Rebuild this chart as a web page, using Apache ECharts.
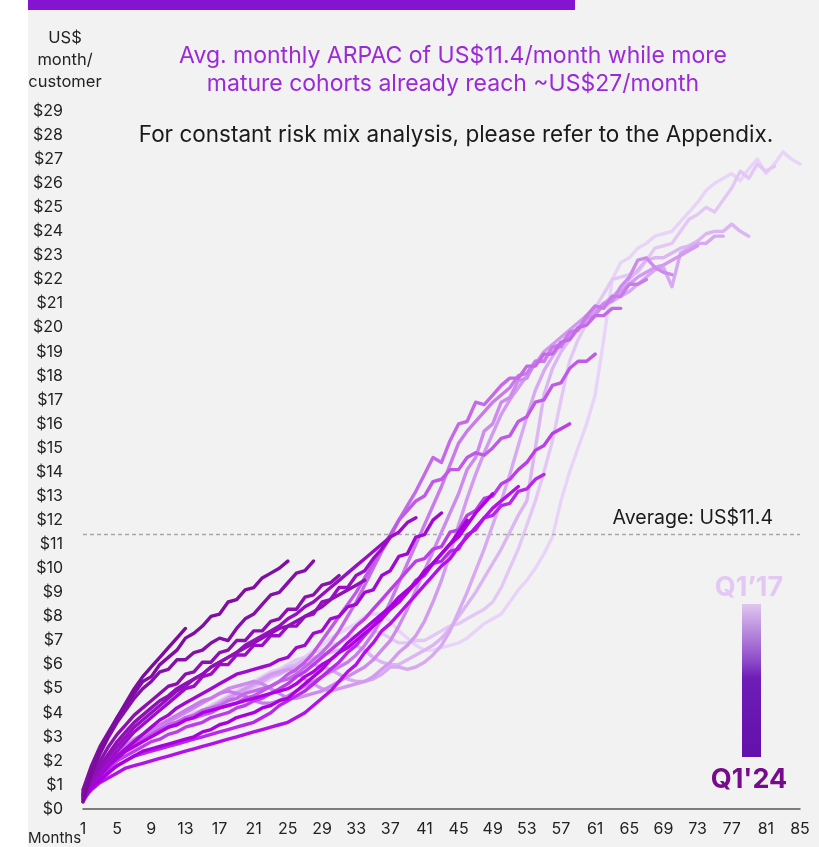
<!DOCTYPE html>
<html>
<head>
<meta charset="utf-8">
<script src="https://cdn.jsdelivr.net/npm/echarts/dist/echarts.min.js"></script>
<style>
  html, body { margin: 0; padding: 0; background: #fff; }
  #chart { width: 819px; height: 847px; }
</style>
</head>
<body>
<div id="chart"></div>
<script>
// months on the x axis (1..85), every 4th one is labelled
const months = [];
for (let m = 1; m <= 85; m++) months.push(String(m));

const avgArpac = 11.4;

// ARPAC per cohort (US$ / month / customer), oldest cohort first (Q1'17 -> newest)
const q85 = [0.8,1.3,1.7,2.1,2.4,2.7,2.9,3.1,3.2,3.3, 3.4,3.5,3.6,3.7,3.9,4.0,4.2,4.4,4.6,4.8,
  5.0,5.2,5.4,5.6,5.8,6.1,6.3,6.6,6.8,7.1, 7.3,7.5,7.7,8.0,8.1,8.1,7.8,7.4,7.1,6.8,
  6.6,6.6,6.7,6.8,6.9,7.1,7.4,7.7,7.9,8.1, 8.6,9.1,9.5,10.0,10.6,11.3,12.8,14.0,15.0,16.0,
  17.2,19.5,22.0,22.7,22.9,23.3,23.5,23.8,23.9,24.0, 24.4,24.8,25.2,25.7,26.0,26.2,26.4,26.1,26.6,27.0,
  26.4,26.8,27.3,27.0,26.8];
const q82 = [0.8,1.2,1.6,2.0,2.3,2.6,2.8,3.0,3.2,3.3, 3.5,3.6,3.8,4.0,4.1,4.3,4.5,4.7,4.9,5.1,
  5.3,5.5,5.7,5.8,6.0,6.2,6.3,6.5,6.6,6.8, 6.9,7.1,7.2,7.3,7.4,7.3,7.1,6.9,6.9,7.0,
  7.0,7.2,7.4,7.6,7.7,7.9,8.1,8.3,8.6,9.2, 10.0,10.8,11.8,12.8,14.0,15.3,17.0,18.6,19.5,20.2,
  20.8,21.4,22.0,22.1,22.2,22.3,22.8,23.3,23.4,23.5, 24.0,24.5,24.7,25.0,24.8,25.3,25.8,26.5,26.2,26.8,
  26.5,26.7];
const q79 = [0.7,1.2,1.6,2.0,2.3,2.5,2.7,2.9,3.1,3.3, 3.4,3.5,3.7,3.8,4.0,4.2,4.4,4.6,4.8,4.9,
  5.1,5.3,5.5,5.7,5.9,6.0,6.2,6.3,6.4,6.5, 6.6,6.7,6.8,6.6,6.3,6.1,6.0,6.0,6.2,6.4,
  6.6,6.8,7.1,7.5,8.0,8.5,9.0,9.6,10.2,10.8, 11.5,12.2,12.8,15.0,17.2,18.3,19.0,19.5,19.9,20.3,
  20.6,21.0,21.3,21.6,22.0,22.4,22.8,22.9,22.9,23.1, 23.3,23.4,23.6,23.9,24.0,24.0,24.3,24.0,23.8];
const q76 = [0.7,1.1,1.5,1.9,2.2,2.5,2.7,2.9,3.1,3.3, 3.4,3.6,3.7,3.9,4.1,4.2,4.4,4.6,4.8,5.0,
  5.2,5.3,5.5,5.6,5.8,5.9,6.0,6.0,5.9,5.8, 5.6,5.4,5.3,5.3,5.4,5.6,5.9,5.9,5.8,5.9,
  6.1,6.4,6.8,7.4,8.2,9.0,9.9,10.8,11.8,12.8, 13.9,15.1,16.3,17.4,18.2,18.8,19.3,19.7,20.0,20.3,
  20.6,20.9,21.1,21.3,21.5,21.8,22.1,22.4,22.5,21.7, 23.1,23.3,23.5,23.5,23.8,23.8];
const q73 = [0.6,1.0,1.4,1.8,2.1,2.4,2.6,2.8,3.0,3.2, 3.4,3.5,3.7,3.9,4.0,4.2,4.4,4.6,4.8,5.0,
  5.2,5.4,5.6,5.7,5.8,5.7,5.4,5.2,5.0,4.9, 5.0,5.1,5.2,5.3,5.5,5.8,6.1,6.5,6.8,7.2,
  7.8,8.6,9.5,10.6,11.8,12.9,13.9,14.8,15.6,16.4, 17.0,17.5,18.0,18.5,19.0,19.3,19.6,19.9,20.2,20.5,
  20.7,21.0,21.2,21.5,21.8,22.1,22.3,22.5,22.6,22.8, 23.0,23.2,23.4];
const q70 = [0.6,1.1,1.5,1.9,2.2,2.5,2.8,3.0,3.2,3.4, 3.6,3.8,4.0,4.2,4.4,4.6,4.8,5.0,5.1,5.2,
  5.3,5.2,5.0,4.8,4.6,4.6,4.7,4.8,4.9,5.1, 5.3,5.5,5.7,5.9,6.2,6.6,7.0,7.6,8.3,9.1,
  9.9,10.7,11.5,12.3,13.1,14.1,14.6,15.7,16.0,16.9, 17.1,17.8,17.9,18.6,18.6,19.2,19.3,19.8,19.9,20.4,
  20.5,21.0,21.1,21.7,22.1,22.8,22.9,22.5,22.3,22.2];
const q67 = [0.7,1.2,1.6,2.0,2.3,2.6,2.9,3.1,3.3,3.5, 3.7,3.9,4.1,4.3,4.5,4.6,4.8,4.9,4.8,4.7,
  4.5,4.4,4.4,4.5,4.7,4.9,5.1,5.3,5.5,5.7, 5.9,6.1,6.4,6.8,7.3,7.9,8.6,9.4,10.2,11.0,
  11.8,12.6,13.4,14.3,15.2,15.7,16.1,16.5,16.9,17.2, 17.5,18.0,18.1,18.6,18.6,19.2,19.2,19.8,19.9,20.5,
  20.9,20.8,21.3,21.3,21.8,21.8,22.0];
const q64 = [0.6,1.1,1.5,1.9,2.2,2.5,2.7,2.9,3.1,3.3, 3.5,3.6,3.8,3.9,4.1,4.2,4.3,4.5,4.6,4.8,
  4.9,5.0,5.1,5.3,5.4,5.6,5.9,6.2,6.5,6.9, 7.4,8.0,8.6,9.3,10.0,10.7,11.3,12.0,12.6,13.2,
  13.9,14.6,14.4,15.3,16.0,16.1,16.9,16.8,17.2,17.6, 17.9,17.9,18.4,18.4,18.9,18.9,19.4,19.5,20.0,20.1,
  20.5,20.5,20.8,20.8];
const q61 = [0.6,1.1,1.5,1.9,2.2,2.5,2.7,2.9,3.1,3.3, 3.4,3.6,3.7,3.8,3.9,4.0,4.2,4.3,4.4,4.6,
  4.7,4.9,5.1,5.3,5.6,5.8,6.1,6.5,7.0,7.5, 8.0,8.5,9.0,9.6,10.2,10.8,11.4,12.0,12.4,12.8,
  13.0,13.6,13.7,14.1,14.1,14.6,14.8,14.7,15.0,15.4, 15.5,16.1,16.3,16.9,17.0,17.6,17.7,18.3,18.6,18.6,
  18.9];
const q58 = [0.4,0.9,1.3,1.7,2.0,2.2,2.4,2.6,2.8,2.9, 3.1,3.2,3.4,3.5,3.6,3.8,3.9,4.0,4.2,4.3,
  4.5,4.6,4.8,5.0,5.2,5.5,5.7,6.0,6.3,6.6, 6.9,7.2,7.6,7.9,8.3,8.7,9.1,9.5,9.9,10.3,
  10.4,10.8,10.9,11.5,11.6,12.2,12.4,12.9,13.0,13.5, 13.7,14.1,14.4,14.9,15.1,15.6,15.8,16.0];
const q55 = [0.3,0.9,1.3,1.6,1.8,2.0,2.2,2.3,2.4,2.5, 2.6,2.7,2.8,2.9,3.0,3.1,3.2,3.3,3.4,3.5,
  3.6,3.8,4.0,4.3,4.5,4.7,4.9,5.2,5.5,5.8, 6.1,6.5,6.8,7.2,7.6,8.0,8.3,8.6,9.0,9.5,
  9.7,10.2,10.3,10.7,10.8,11.4,11.6,12.1,12.2,12.6, 12.7,13.2,13.3,13.7,13.9];
const q52 = [0.4,0.8,1.1,1.3,1.5,1.7,1.8,1.9,2.0,2.1, 2.2,2.3,2.4,2.5,2.6,2.7,2.8,2.9,3.0,3.1,
  3.2,3.3,3.4,3.5,3.6,3.8,4.0,4.3,4.6,4.9, 5.3,5.7,6.0,6.5,6.9,7.4,7.7,8.1,8.5,8.9,
  9.3,9.7,10.1,10.4,10.9,11.3,11.7,12.1,12.5,12.8, 13.1,13.4];
const q49 = [0.5,1.0,1.4,1.8,2.1,2.4,2.6,2.8,3.0,3.2, 3.4,3.5,3.7,3.8,4.0,4.1,4.2,4.3,4.4,4.5,
  4.6,4.7,4.8,4.9,5.0,5.2,5.5,5.7,6.0,6.2, 6.5,6.7,7.0,7.3,7.6,7.9,8.3,8.6,9.0,9.4,
  9.9,10.2,10.6,11.0,11.3,11.8,12.3,12.7,13.1];
const q46 = [0.4,0.9,1.2,1.5,1.8,2.0,2.2,2.4,2.5,2.6, 2.7,2.8,2.9,3.0,3.2,3.3,3.5,3.6,3.8,3.9,
  4.0,4.2,4.3,4.5,4.6,4.9,5.2,5.5,5.8,6.2, 6.5,6.9,7.2,7.5,7.8,8.1,8.4,8.8,9.1,9.4,
  9.8,10.2,10.6,11.0,11.5,12.0];
const q43 = [0.5,1.0,1.4,1.8,2.2,2.5,2.8,3.1,3.4,3.7, 3.9,4.2,4.4,4.6,4.8,5.0,5.2,5.4,5.6,5.7,
  5.8,5.9,6.0,6.2,6.3,6.7,6.8,7.3,7.4,7.9, 8.0,8.4,8.5,9.0,9.1,9.7,9.9,10.5,10.6,11.3,
  11.4,12.0,12.3];
const q40 = [0.5,1.1,1.6,2.0,2.4,2.8,3.2,3.5,3.8,4.1, 4.4,4.7,5.0,5.1,5.5,5.6,6.0,6.0,6.4,6.4,
  6.8,6.8,7.2,7.2,7.6,7.6,8.0,8.1,8.6,8.7, 9.2,9.2,9.7,9.9,10.4,10.8,11.3,11.5,11.9,12.1];
const q37 = [0.6,1.2,1.7,2.2,2.6,3.0,3.4,3.7,4.0,4.3, 4.6,4.9,5.1,5.4,5.6,5.9,6.1,6.3,6.5,6.8,
  7.0,7.2,7.4,7.6,7.9,8.1,8.4,8.6,8.9,9.2, 9.5,9.8,10.1,10.4,10.7,11.0,11.3];
const q34 = [0.6,1.2,1.8,2.3,2.8,3.2,3.6,3.9,4.2,4.5, 4.7,5.0,5.2,5.4,5.6,5.9,6.1,6.3,6.5,6.7,
  6.9,7.1,7.3,7.5,7.6,7.8,8.0,8.2,8.4,8.7, 8.9,9.1,9.3,9.5];
const q31 = [0.7,1.4,2.0,2.6,3.1,3.5,3.9,4.2,4.5,4.8, 5.1,5.2,5.6,5.7,6.1,6.1,6.5,6.6,7.0,7.0,
  7.4,7.4,7.8,7.9,8.3,8.3,8.8,8.9,9.3,9.4, 9.7];
const q28 = [0.6,1.5,2.3,3.0,3.6,4.1,4.6,5.0,5.3,5.7, 5.8,6.2,6.2,6.5,6.6,6.9,7.1,7.0,7.5,7.9,
  8.1,8.5,8.9,9.0,9.4,9.8,9.9,10.3];
const q25 = [0.8,1.8,2.6,3.2,3.8,4.3,4.8,5.3,5.5,6.0, 6.3,6.6,7.1,7.3,7.6,8.0,8.1,8.6,8.7,9.1,
  9.2,9.6,9.8,10.0,10.3];
const q13 = [0.3,1.5,2.4,3.1,3.8,4.4,5.0,5.5,5.9,6.3, 6.7,7.1,7.5];

const cohorts = [q85, q82, q79, q76, q73, q70, q67, q64, q61, q58, q55,
  q52, q49, q46, q43, q40, q37, q34, q31, q28, q25, q13];
// light (oldest) -> dark (newest)
const lineColors = ['#e8d4f8', '#e3c8f6', '#dbb6f3', '#d7a9f2', '#d29af0', '#cd8bee',
  '#c97bec', '#c46ae9', '#c058e8', '#bb3ee8', '#b828ea', '#b410ea', '#b000e6', '#aa00e0',
  '#a208d4', '#9c0dc8', '#960fc0', '#9010b8', '#8a10b0', '#850fa9', '#800da4', '#7b0c9e'];

const FONT = 'Inter, "Noto Sans", sans-serif';

const chart = echarts.init(document.getElementById('chart'), null, { renderer: 'canvas' });

const series = cohorts.map((d, i) => ({
  type: 'line',
  data: d,
  showSymbol: false,
  symbol: 'none',
  silent: true,
  z: 2 + i,
  lineStyle: { width: 3.4, color: lineColors[i], cap: 'round', join: 'round' }
}));
// dashed average line
series[0].markLine = {
  symbol: 'none',
  silent: true,
  label: { show: false },
  lineStyle: { type: [4, 3], color: '#a9a9a9', width: 1.3 },
  data: [{ yAxis: avgArpac }]
};

chart.setOption({
  animation: false,
  backgroundColor: '#ffffff',
  grid: { left: 83, right: 19, top: 111, bottom: 38 },
  xAxis: {
    type: 'category',
    data: months,
    boundaryGap: false,
    axisLine: { lineStyle: { color: '#555', width: 1.5 } },
    axisTick: { show: false },
    axisLabel: { interval: 3, color: '#222', fontSize: 16, fontFamily: FONT, margin: 12 },
    splitLine: { show: false }
  },
  yAxis: {
    type: 'value',
    min: 0,
    max: 29,
    interval: 1,
    axisLine: { show: false },
    axisTick: { show: false },
    splitLine: { show: false },
    axisLabel: { color: '#222', fontSize: 16, fontFamily: FONT, margin: 20, formatter: v => '$' + v }
  },
  graphic: [
    { type: 'rect', z: -10, silent: true, shape: { x: 28, y: 0, width: 791, height: 847 }, style: { fill: '#f2f2f2' } },
    { type: 'rect', z: -9, silent: true, shape: { x: 28, y: 0, width: 547, height: 10 }, style: { fill: '#8414d0' } },
    { type: 'text', x: 65, y: 27, silent: true,
      style: { text: 'US$\nmonth/\ncustomer', textAlign: 'center', textVerticalAlign: 'top', fontSize: 16.5, lineHeight: 22, fontFamily: FONT, fill: '#222' } },
    { type: 'text', x: 453, y: 42, silent: true,
      style: { text: 'Avg. monthly ARPAC of US$11.4/month while more\nmature cohorts already reach ~US$27/month', textAlign: 'center', textVerticalAlign: 'top', fontSize: 23, lineHeight: 28, fontFamily: FONT, fill: '#9a2ad8' } },
    { type: 'text', x: 456, y: 135, silent: true,
      style: { text: 'For constant risk mix analysis, please refer to the Appendix.', textAlign: 'center', textVerticalAlign: 'middle', fontSize: 22.5, fontFamily: FONT, fill: '#1a1a1a' } },
    { type: 'text', x: 773, y: 518, silent: true,
      style: { text: 'Average: US$11.4', textAlign: 'right', textVerticalAlign: 'middle', fontSize: 19.5, fontFamily: FONT, fill: '#1a1a1a' } },
    { type: 'text', x: 28, y: 838, silent: true,
      style: { text: 'Months', textAlign: 'left', textVerticalAlign: 'middle', fontSize: 15, fontFamily: FONT, fill: '#222' } },
    { type: 'text', x: 749, y: 588, silent: true,
      style: { text: 'Q1\u201917', textAlign: 'center', textVerticalAlign: 'middle', fontSize: 27, fontWeight: 'bold', fontFamily: FONT, fill: '#e2c8f2' } },
    { type: 'rect', silent: true, shape: { x: 742, y: 604, width: 19, height: 153 },
      style: { fill: new echarts.graphic.LinearGradient(0, 0, 0, 1, [
        { offset: 0, color: '#e0c6f0' },
        { offset: 0.38, color: '#8c48c8' },
        { offset: 0.48, color: '#6e1db6' },
        { offset: 1, color: '#6410ac' }]) } },
    { type: 'text', x: 749, y: 780, silent: true,
      style: { text: "Q1'24", textAlign: 'center', textVerticalAlign: 'middle', fontSize: 27, fontWeight: 'bold', fontFamily: FONT, fill: '#780a8c' } }
  ],
  series: series
});
</script>
</body>
</html>
